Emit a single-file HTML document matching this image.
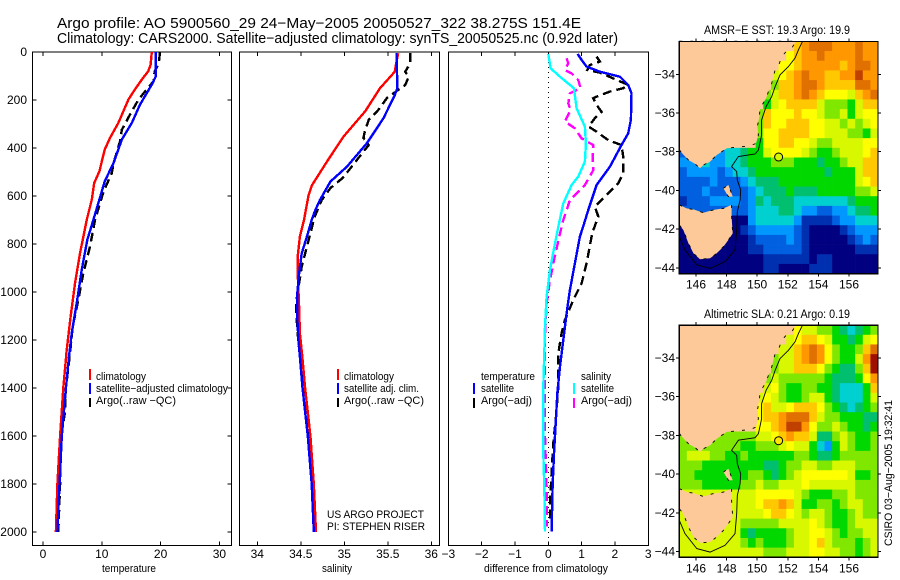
<!DOCTYPE html>
<html>
<head>
<meta charset="utf-8">
<title>Argo profile</title>
<style>
html,body{margin:0;padding:0;background:#fff;width:900px;height:580px;overflow:hidden}
svg{display:block}
text{font-family:"Liberation Sans",sans-serif;fill:#000}
.title{font-size:14.5px}
.tick{font-size:12px}
.lab{font-size:11px}
.leg{font-size:11px}
.maptitle{font-size:11.5px}
</style>
</head>
<body>
<svg id="chart" width="900" height="580" viewBox="0 0 900 580" xmlns="http://www.w3.org/2000/svg">
<text class="title" x="57" y="28" textLength="524" lengthAdjust="spacingAndGlyphs">Argo profile: AO 5900560_29 24−May−2005 20050527_322 38.275S 151.4E</text>
<text class="title" x="57" y="43" textLength="561" lengthAdjust="spacingAndGlyphs">Climatology: CARS2000. Satellite−adjusted climatology: synTS_20050525.nc (0.92d later)</text>
<g id="maps"></g>
<g id="panels"></g>
<g>
<text class="leg" x="96" y="380" textLength="50" lengthAdjust="spacingAndGlyphs">climatology</text>
<text class="leg" x="96" y="392" textLength="132" lengthAdjust="spacingAndGlyphs">satellite−adjusted climatology</text>
<text class="leg" x="96" y="404" textLength="80" lengthAdjust="spacingAndGlyphs">Argo(..raw −QC)</text>
<rect x="89" y="369" width="2" height="11" fill="#f00"/>
<rect x="89" y="383" width="2" height="11" fill="#00f"/>
<rect x="89" y="398" width="2" height="9" fill="#000"/>
</g>
<g>
<text class="leg" x="344" y="380" textLength="50" lengthAdjust="spacingAndGlyphs">climatology</text>
<text class="leg" x="344" y="392" textLength="75" lengthAdjust="spacingAndGlyphs">satellite adj. clim.</text>
<text class="leg" x="344" y="404" textLength="80" lengthAdjust="spacingAndGlyphs">Argo(..raw −QC)</text>
<rect x="337" y="369" width="2" height="11" fill="#f00"/>
<rect x="337" y="383" width="2" height="11" fill="#00f"/>
<rect x="337" y="398" width="2" height="9" fill="#000"/>
<text class="leg" x="327" y="518" textLength="97" lengthAdjust="spacingAndGlyphs">US ARGO PROJECT</text>
<text class="leg" x="327" y="530" textLength="98" lengthAdjust="spacingAndGlyphs">PI: STEPHEN RISER</text>
</g>
<g>
<text class="leg" x="481" y="380" textLength="54" lengthAdjust="spacingAndGlyphs">temperature</text>
<text class="leg" x="481" y="392" textLength="33" lengthAdjust="spacingAndGlyphs">satellite</text>
<text class="leg" x="481" y="404" textLength="51" lengthAdjust="spacingAndGlyphs">Argo(−adj)</text>
<rect x="473" y="383" width="2" height="11" fill="#00f"/>
<rect x="473" y="398" width="2" height="10" fill="#000"/>
<text class="leg" x="581" y="380" textLength="30" lengthAdjust="spacingAndGlyphs">salinity</text>
<text class="leg" x="581" y="392" textLength="33" lengthAdjust="spacingAndGlyphs">satellite</text>
<text class="leg" x="581" y="404" textLength="51" lengthAdjust="spacingAndGlyphs">Argo(−adj)</text>
<rect x="573" y="383" width="2" height="11" fill="#0ff"/>
<rect x="573" y="398" width="2" height="10" fill="#f0f"/>
</g>
<text class="lab" x="129" y="572" text-anchor="middle" textLength="54" lengthAdjust="spacingAndGlyphs">temperature</text>
<text class="lab" x="337" y="572" text-anchor="middle" textLength="30" lengthAdjust="spacingAndGlyphs">salinity</text>
<text class="lab" x="546" y="572" text-anchor="middle" textLength="124" lengthAdjust="spacingAndGlyphs">difference from climatology</text>
<text class="maptitle" x="777" y="34" text-anchor="middle" textLength="146" lengthAdjust="spacingAndGlyphs">AMSR−E SST: 19.3 Argo: 19.9</text>
<text class="maptitle" x="777" y="318" text-anchor="middle" textLength="146" lengthAdjust="spacingAndGlyphs">Altimetric SLA: 0.21 Argo: 0.19</text>
<text class="lab" transform="translate(892,546) rotate(-90)" textLength="146" lengthAdjust="spacingAndGlyphs">CSIRO 03−Aug−2005 19:32:41</text>
</svg>
<script>
// ---------- profile data (depth in dbar) ----------
var tempClimDepth = [0,53,80,115,164,199,296,358,407,497,546,615,700,839,964,1103,1242,1400,1600,1800,2000];
var tempClim = [18.5,18.3,17.9,16.8,15.4,14.5,12.8,11.4,10.5,9.6,8.7,8.3,7.43,6.3,5.44,4.7,4.03,3.45,2.9,2.45,2.2];
var tempSatDepth = [0,101,136,219,296,365,462,539,615,700,783,908,1047,1172,1269,1400,1600,1800,2000];
var tempSat = [19.2,19.2,18.5,16.5,15.1,13.4,12.0,10.5,9.6,8.56,7.54,6.58,5.73,4.88,4.42,3.9,3.2,2.8,2.45];
var tempArgoDepth = [0,46,80,122,157,199,261,324,372,462,504,581,700,811,922,1033,1144,1256,1400,1500,1600,1800,2000];
var tempArgo = [19.9,19.7,19.0,18.8,17.6,16.2,14.8,13.4,13.1,12.0,11.7,10.3,8.84,8.0,6.85,6.0,5.05,4.6,3.9,3.75,3.1,2.9,2.6];

var salClimDepth = [5,61,82,151,247,353,457,554,596,700,769,853,922,1061,1172,1269,1400,1600,1800,2000];
var salClim = [35.62,35.59,35.58,35.41,35.24,34.99,34.80,34.63,34.59,34.537,34.49,34.464,34.464,34.48,34.49,34.517,34.55,34.61,34.65,34.675];
var salSatDepth = [5,151,179,276,380,478,540,617,665,700,769,839,922,1006,1103,1186,1269,1400,1600,1800,2000];
var salSat = [35.60,35.61,35.58,35.45,35.26,35.03,34.84,34.72,34.66,34.625,34.57,34.51,34.48,34.46,34.46,34.47,34.49,34.52,34.58,34.625,34.65];
var salArgoDepth = [5,46,82,103,138,158,192,242,283,325,358,388,415,471,525,567,617,686,894,1047,1158,1269,1600,2000];
var salArgo = [35.76,35.76,35.70,35.74,35.70,35.62,35.49,35.39,35.28,35.24,35.22,35.28,35.22,35.10,34.98,34.84,34.74,34.66,34.51,34.445,34.46,34.49,34.59,34.66];

var diffTempSatDepth = [8,33,61,82,103,137,172,283,339,387,478,554,658,735,769,880,992,1089,1200,1311,1422,1526,1672,1811,1998];
var diffTempSat = [0.88,1.0,1.15,1.55,2.15,2.4,2.5,2.48,2.4,2.2,1.85,1.45,1.2,1.03,0.95,0.8,0.65,0.55,0.45,0.35,0.27,0.23,0.17,0.13,0.10];
var diffSalSatDepth = [8,68,103,151,235,311,381,457,519,554,631,728,797,908,1019,1144,1256,1394,1519,1672,1811,1998];
var diffSalSat = [0,0.07,0.35,0.77,0.85,1.10,1.13,1.10,0.90,0.70,0.45,0.30,0.20,0.05,-0.05,-0.10,-0.12,-0.15,-0.15,-0.15,-0.12,-0.10];
var diffTempArgoDepth = [19,40,54,75,86,110,137,151,165,186,193,221,249,276,311,332,367,388,436,506,547,603,644,686,742,769,880,964,1033,1117,1172,1256,1394,1519,1630,1700,1880,1950];
var diffTempArgo = [1.45,1.55,1.25,1.17,1.55,1.95,2.4,2.25,1.85,1.45,1.35,1.45,1.6,1.4,1.21,1.45,1.8,2.2,2.25,2.25,2.1,1.7,1.4,1.5,1.35,1.3,1.15,1.0,0.75,0.5,0.4,0.3,0.3,0.23,0.15,0.12,0.05,0.05];
var diffSalArgoDepth = [26,47,75,89,117,151,172,214,242,290,318,360,388,443,492,554,617,700,756,867,950,1047,1186,1394,1602,1811,1977];
var diffSalArgo = [0.55,0.60,0.50,0.70,0.90,0.97,0.65,0.60,0.67,0.50,0.80,1.0,1.35,1.33,1.35,1.10,0.65,0.45,0.35,0.17,0.05,-0.05,-0.10,-0.10,-0.10,-0.05,-0.05];

var depthTicks = [0,200,400,600,800,1000,1200,1400,1600,1800,2000];
var tempTicks = [0,10,20,30];
var salTicks = [34,34.5,35,35.5,36];
var diffTicks = [-3,-2,-1,0,1,2,3];

// ---------- map data: one row per half degree of latitude, one char per half degree of longitude ----------
var lonTicks = [146,148,150,152,154,156];
var latTicks = [-34,-36,-38,-40,-42,-44];
var gridLon0 = 144.9;
var gridLat0 = -32.3;
var gridStep = 0.5;
var levelColors = ['#000080','#0030b0','#0060e0','#0098ff','#00d0d0','#00c070','#00d800','#80e800','#d8f800','#ffff00','#ffc800','#ff9800','#e07000','#c04000','#a01000'];
var sstRows = [
"...... ..... ....a bcccb bbcbb",
"...... ..... ...9a bbcbb bbcbb",
"...... ..... ..99a bbbbb abccb",
"...... ..... .89ab cbbaa bbdbb",
"...... ..... .7aab ccbaa aaccb",
"...... ..... 78aab cba99 98abc",
"...... ..... 689aa aa877 768aa",
"...... ....7 a999a 99877 86899",
"...... ....7 a99aa a9988 78789",
"...... ....7 99aaa a9988 87768",
"...... ....6 99aa9 98778 88899",
"233333 44566 89999 87667 8889a",
"333433 44566 67776 66566 788aa",
"233332 34456 66666 66656 668aa",
"222232 22345 55666 66666 6689a",
"222322 22234 55565 55666 66778",
"122233 33235 45554 44444 45666",
"222222 22234 44554 33223 34556",
"000000 00034 44443 11112 33444",
"000000 00123 33332 10000 12333",
"000000 00012 22232 10000 01232",
"000000 00011 22222 10000 00111",
"000000 00000 11111 10110 00000",
"000000 00000 11000 01110 00000"
];
var slaRows = [
"...... ..... ....9 88776 54567",
"...... ..... ...89 aa986 65689",
"...... ..... ..88a bcb97 667ac",
"...... ..... .788a bcb97 668be",
"...... ..... .788a aa976 557ae",
"...... ..... 78777 77765 5569b",
"...... ..... 89766 77665 4446a",
"...... ....8 98766 78865 44468",
"...... ....9 a889a aa976 54567",
"...... ....9 aabcc ca877 66655",
"...... ....9 9abdd b9778 76656",
"777777 77778 89aba a8557 87667",
"777777 77667 77898 86436 87667",
"788877 66766 66667 76556 77777",
"777666 66666 55677 88778 88777",
"776666 66677 65678 99999 98667",
"777666 66778 77888 98888 88777",
"888888 88889 99998 76667 78777",
"888888 88889 aaba8 66776 78877",
"888888 88888 9aa98 78876 67877",
"888888 88777 77888 89876 67888",
"888888 88656 66678 89987 67788",
"888888 88767 66678 89a87 77678",
"888888 88888 77788 89988 77678"
];
var mainlandLon = [144.91,152.54,152.25,151.88,151.60,151.45,151.17,151.06,150.95,150.73,150.58,150.19,150.14,150.01,150.08,149.92,149.53,148.66,148.01,147.68,147.35,146.92,146.48,146.26,145.94,145.50,145.0,144.91];
var mainlandLat = [-32.29,-32.29,-32.66,-32.83,-33.09,-33.43,-33.78,-34.12,-34.47,-34.90,-35.24,-35.76,-36.19,-36.70,-37.14,-37.57,-37.70,-37.77,-37.82,-38.00,-38.17,-38.51,-38.69,-38.86,-38.63,-38.43,-38.0,-37.88];
var tasLon = [144.91,145.39,145.83,146.48,147.14,147.79,148.33,148.33,148.40,148.12,147.79,147.35,146.92,146.26,145.83,145.50,145.17,144.91];
var tasLat = [-40.75,-40.93,-40.98,-41.15,-41.01,-40.93,-40.75,-41.36,-42.22,-42.56,-42.91,-43.25,-43.51,-43.56,-43.25,-42.73,-42.04,-41.79];
var flindersLon = [147.79,148.12,148.40,148.12];
var flindersLat = [-39.89,-39.72,-40.32,-40.32];
var shelfLon = [152.97,152.69,152.47,152.04,151.49,151.17,150.95,150.58,150.29,150.29,150.08,149.86,148.77,148.33,148.66,148.70,148.92,148.88,148.70,148.66,148.55,147.90,146.92,146.05,145.28,144.91];
var shelfLat = [-32.29,-32.74,-33.17,-33.60,-34.03,-34.64,-35.15,-35.67,-36.36,-37.14,-37.91,-38.12,-38.25,-38.77,-39.03,-39.46,-39.98,-40.49,-41.10,-42.04,-43.08,-43.68,-44.03,-43.85,-43.08,-42.39];
var floatLon = 151.4;
var floatLat = -38.275;

var NS = 'http://www.w3.org/2000/svg';
function mk(tag, parent) {
  var e = document.createElementNS(NS, tag);
  parent.appendChild(e);
  return e;
}
function frame(parent, x0, y0, x1, y1) {
  var r = mk('rect', parent);
  
  
  r.setAttribute('x', x0); r.setAttribute('y', y0);
  r.setAttribute('width', x1 - x0); r.setAttribute('height', y1 - y0);
  r.setAttribute('fill', 'none'); r.setAttribute('stroke', '#000');
  r.setAttribute('stroke-width', '1.3');
  r.setAttribute('shape-rendering', 'crispEdges');
}
function seg(parent, x1, y1, x2, y2) {
  var l = mk('line', parent);
  
  
  l.setAttribute('x1', x1); l.setAttribute('y1', y1);
  l.setAttribute('x2', x2); l.setAttribute('y2', y2);
  l.setAttribute('stroke', '#000');
  l.setAttribute('shape-rendering', 'crispEdges');
}
function label(parent, x, y, str, anchor) {
  var t = mk('text', parent);
  
  
  t.setAttribute('class', 'tick');
  t.setAttribute('x', x); t.setAttribute('y', y);
  t.setAttribute('text-anchor', anchor);
  t.textContent = String(str).replace('-', '−');
}

// ---------- profile panels ----------
var plotTop = 52, plotBottom = 545.5;
function depthY(d) { return 52 + d * 0.24; }
function tempX(v) { return 43 + v * 5.88; }
function salX(v) { return 257.3 + (v - 34) * 87; }
function diffX(v) { return 548.3 + v * 33.3; }

function series(parent, name, depths, vals, xf, color, dashed) {
  var p = mk('path', parent);
  
  
  var d = '';
  for (var i = 0; i < vals.length; i++) {
    d += (i ? 'L' : 'M') + xf(vals[i]).toFixed(1) + ' ' + depthY(depths[i]).toFixed(1);
  }
  p.setAttribute('d', d);
  p.setAttribute('fill', 'none');
  p.setAttribute('stroke', color);
  p.setAttribute('stroke-width', '2.4');
  p.setAttribute('shape-rendering', 'crispEdges');
  if (dashed) p.setAttribute('stroke-dasharray', '9 5');
}
function panel(name, x0, x1, xf, ticks, showDepth, rightTicks, leftTicks) {
  var g = mk('g', document.getElementById('panels'));
  
  
  frame(g, x0, plotTop, x1, plotBottom);
  ticks.forEach(function (t) {
    var x = xf(t);
    if (x > x0 + 1 && x < x1 - 1) {
      seg(g, x, plotTop, x, plotTop + 4);
      seg(g, x, plotBottom, x, plotBottom - 4);
    }
    label(g, x, 558, t, 'middle');
  });
  depthTicks.forEach(function (d) {
    var y = depthY(d);
    if (showDepth) label(g, 27, y + 4, d, 'end');
    if (d > 0 && leftTicks) seg(g, x0, y, x0 + 4, y);
    if (d > 0 && rightTicks) seg(g, x1, y, x1 - 4, y);
  });
  return g;
}
var p1 = panel('temperature-panel', 32.5, 231.5, tempX, tempTicks, true, true, true);
series(p1, 'argo-temperature-line', tempArgoDepth, tempArgo, tempX, '#000', true);
series(p1, 'climatology-temperature-line', tempClimDepth, tempClim, tempX, '#f00', false);
series(p1, 'satellite-temperature-line', tempSatDepth, tempSat, tempX, '#00f', false);

var p2 = panel('salinity-panel', 239.5, 439.5, salX, salTicks, false, false, false);
series(p2, 'argo-salinity-line', salArgoDepth, salArgo, salX, '#000', true);
series(p2, 'climatology-salinity-line', salClimDepth, salClim, salX, '#f00', false);
series(p2, 'satellite-salinity-line', salSatDepth, salSat, salX, '#00f', false);

var p3 = panel('difference-panel', 448.5, 648.5, diffX, diffTicks, false, false, false);
var zero = mk('line', p3);


zero.setAttribute('x1', diffX(0)); zero.setAttribute('x2', diffX(0));
zero.setAttribute('y1', plotTop); zero.setAttribute('y2', plotBottom);
zero.setAttribute('stroke', '#000');
zero.setAttribute('stroke-dasharray', '1 4');
zero.setAttribute('shape-rendering', 'crispEdges');
series(p3, 'argo-temperature-difference-line', diffTempArgoDepth, diffTempArgo, diffX, '#000', true);
series(p3, 'satellite-temperature-difference-line', diffTempSatDepth, diffTempSat, diffX, '#00f', false);
series(p3, 'argo-salinity-difference-line', diffSalArgoDepth, diffSalArgo, diffX, '#f0f', true);
series(p3, 'satellite-salinity-difference-line', diffSalSatDepth, diffSalSat, diffX, '#0ff', false);

// ---------- maps ----------
function lonX(l) { return 696 + (l - 146) * 15.3; }
function levelOf(ch) { return parseInt(ch, 16); }
function polyPoints(lons, lats, latY) {
  return lons.map(function (l, i) { return lonX(l).toFixed(1) + ',' + latY(lats[i]).toFixed(1); }).join(' ');
}
function drawMap(name, rowsRaw, yBase, markerFill) {
  function latY(lat) { return yBase + (-34 - lat) * 19.35; }
  var g = mk('g', document.getElementById('maps'));
  
  
  var xL = lonX(gridLon0), xR = lonX(gridLon0 + 26 * gridStep);
  var yT = latY(gridLat0), yB = latY(gridLat0 - 24 * gridStep);
  var bg = mk('rect', g);
  
  
  bg.setAttribute('x', xL); bg.setAttribute('y', yT);
  bg.setAttribute('width', xR - xL); bg.setAttribute('height', yB - yT);
  bg.setAttribute('fill', '#fdc998');
  rowsRaw.forEach(function (raw, r) {
    var row = raw.replace(/ /g, '');
    for (var c = 0; c < row.length && c < 26; c++) {
      if (row[c] === '.') continue;
      var cell = mk('rect', g);
      
      
      var lon = gridLon0 + c * gridStep, lat = gridLat0 - r * gridStep;
      var x = lonX(lon), y = latY(lat);
      cell.setAttribute('x', x.toFixed(2));
      cell.setAttribute('y', y.toFixed(2));
      cell.setAttribute('width', (lonX(lon + gridStep) - x + 0.3).toFixed(2));
      cell.setAttribute('height', (latY(lat - gridStep) - y + 0.3).toFixed(2));
      cell.setAttribute('fill', levelColors[levelOf(row[c])]);
    }
  });
  var main = mk('polygon', g);
  
  
  main.setAttribute('points', polyPoints(mainlandLon, mainlandLat, latY));
  var tas = mk('polygon', g);
  
  
  tas.setAttribute('points', polyPoints(tasLon, tasLat, latY));
  var fl = mk('polygon', g);
  
  
  fl.setAttribute('points', polyPoints(flindersLon, flindersLat, latY));
  [main, tas, fl].forEach(function (p) {
    p.setAttribute('fill', '#fdc998');
    p.setAttribute('stroke', '#000');
    p.setAttribute('stroke-width', '0.9');
    p.setAttribute('stroke-dasharray', '3 8');
  });
  var shelf = mk('polyline', g);
  
  
  shelf.setAttribute('points', polyPoints(shelfLon, shelfLat, latY));
  shelf.setAttribute('fill', 'none');
  shelf.setAttribute('stroke', '#000');
  shelf.setAttribute('stroke-width', '0.9');
  var marker = mk('circle', g);
  
  
  marker.setAttribute('cx', lonX(floatLon));
  marker.setAttribute('cy', latY(floatLat));
  marker.setAttribute('r', '4');
  marker.setAttribute('fill', markerFill);
  marker.setAttribute('stroke', '#000');
  frame(g, xL, yT, xR, yB);
  lonTicks.forEach(function (l) {
    var x = lonX(l);
    seg(g, x, yT, x, yT - 3);
    seg(g, x, yB, x, yB + 3);
    label(g, x, yB + 15, l, 'middle');
  });
  latTicks.forEach(function (lat) {
    var y = latY(lat);
    seg(g, xL, y, xL - 3, y);
    seg(g, xR, y, xR + 3, y);
    label(g, 675, y + 4, lat, 'end');
  });
}
drawMap('sst-map', sstRows, 74.3, '#d8f800');
drawMap('sla-map', slaRows, 358, '#ffe800');
</script>
</body>
</html>
